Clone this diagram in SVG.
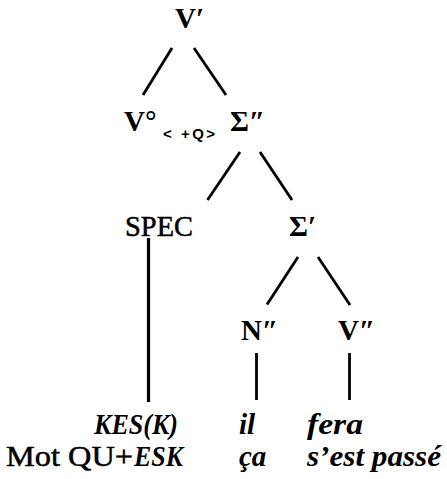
<svg xmlns="http://www.w3.org/2000/svg" width="447" height="479" viewBox="0 0 447 479">
<style>
.lbl{font-family:"Liberation Serif","Times New Roman",serif;font-size:29px;fill:#000}
.b{font-weight:bold}
.r{stroke:#000;stroke-width:0.5}
.it{font-style:italic;font-weight:bold;font-size:29px}
.bot{font-size:29px}
.sub{font-family:"Liberation Sans",Arial,sans-serif;font-size:15px;font-weight:bold;fill:#000;letter-spacing:2.5px}
.edge{stroke:#000;stroke-width:2.8;fill:none;stroke-linecap:butt}
</style>
<rect width="447" height="479" fill="#fff"/>
<g id="connectors">
<line class="edge" x1="172" y1="48" x2="143" y2="95"/>
<line class="edge" x1="194" y1="48" x2="226" y2="95"/>
<line class="edge" x1="240" y1="152" x2="207.5" y2="200"/>
<line class="edge" x1="260" y1="152" x2="292" y2="200"/>
<line class="edge" x1="148.5" y1="238" x2="148.5" y2="402" style="stroke-width:3.2"/>
<line class="edge" x1="298" y1="257" x2="267" y2="304.5"/>
<line class="edge" x1="318" y1="257" x2="350" y2="305"/>
<line class="edge" x1="256.5" y1="353" x2="256.5" y2="400"/>
<line class="edge" x1="349.5" y1="353" x2="349.5" y2="400"/>
</g>
<g id="n-Vbar"><text class="lbl b" x="175" y="28">V′</text></g>
<g id="n-V0"><text class="lbl b" x="124" y="131">V°</text>
<text class="sub" x="163" y="139">&lt; +Q&gt;</text></g>
<g id="n-Sigma2"><text class="lbl b" x="230" y="131">Σ″</text></g>
<g id="n-SPEC"><text class="lbl r" x="125" y="236" textLength="68" lengthAdjust="spacingAndGlyphs">SPEC</text></g>
<g id="n-Sigma1"><text class="lbl b" x="289" y="236">Σ′</text></g>
<g id="n-N2"><text class="lbl b" x="241" y="340">N″</text></g>
<g id="n-V2"><text class="lbl b" x="338" y="340">V″</text></g>
<g id="n-KES">
<text class="lbl it" x="94" y="434" textLength="84" lengthAdjust="spacingAndGlyphs">KES(K)</text>
<text class="lbl bot r" x="6" y="466" textLength="127" lengthAdjust="spacingAndGlyphs">Mot QU+</text>
<text class="lbl it" x="134" y="466" textLength="49" lengthAdjust="spacingAndGlyphs">ESK</text>
</g>
<g id="n-il">
<text class="lbl it" x="239" y="434">il</text>
<text class="lbl it" x="239" y="466">ça</text>
</g>
<g id="n-fera">
<text class="lbl it" x="307" y="434" textLength="56" lengthAdjust="spacingAndGlyphs">fera</text>
<text class="lbl it" x="307" y="466" textLength="134" lengthAdjust="spacingAndGlyphs">s’est passé</text>
</g>
</svg>
